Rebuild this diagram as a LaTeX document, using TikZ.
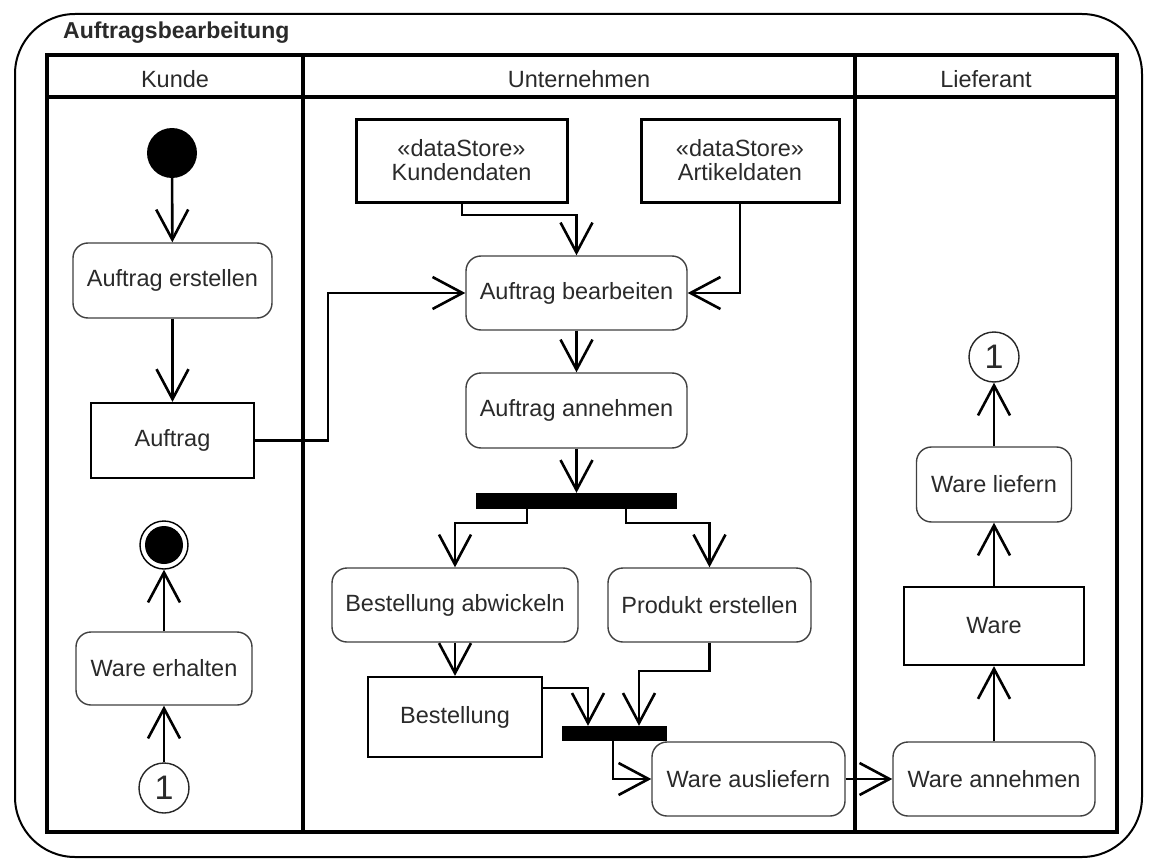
\documentclass[tikz,border=0pt]{standalone}
\usepackage{fontspec}
\setmainfont{Liberation Sans}
\usetikzlibrary{arrows.meta,positioning}
\definecolor{txt}{HTML}{2A2A2A}
\tikzset{
  base/.style={font=\fontsize{23.5}{27}\selectfont, text=txt, inner sep=0pt, align=center},
  act/.style={base, draw=black!75, line width=1.4pt, rounded corners=15pt, fill=white},
  obj/.style={base, draw=black, line width=2.2pt, fill=white},
  store/.style={base, draw=black, line width=3pt, fill=white},
  bar/.style={fill=black, draw=none, inner sep=0pt},
  conn/.style={base, font=\fontsize{34}{36}\selectfont, circle, draw=black!85, line width=1.4pt, minimum size=50pt, fill=white},
  flow/.style={line width=2.6pt, -{Straight Barb[length=30pt,width=32pt,line width=2.6pt]}},
  lane/.style={line width=4.5pt},
}
\begin{document}
\begin{tikzpicture}[x=1pt,y=-1pt]
\useasboundingbox (0,0) rectangle (1152,867);
\fill[white] (0,0) rectangle (1152,867);
% outer frame
\draw[line width=2pt, rounded corners=60pt] (15,14) rectangle (1142,857);
\node[base, font=\fontsize{23}{26}\selectfont\bfseries, anchor=west] (title) at (63,33) {Auftragsbearbeitung};
% swimlanes
\draw[lane] (47,55) rectangle (1117,832);
\draw[lane] (47,97) -- (1117,97);
\draw[lane] (303,55) -- (303,832);
\draw[lane] (855,55) -- (855,832);
\node[base] (hK) at (175,79) {Kunde};
\node[base] (hU) at (579,79) {Unternehmen};
\node[base] (hL) at (986,79) {Lieferant};
% Kunde lane
\node[circle, fill=black, minimum size=50pt, inner sep=0pt] (init) at (172,153) {};
\node[act, minimum width=199pt, minimum height=75pt] (erst) at (172.5,280.5) {Auftrag erstellen};
\node[obj, minimum width=163pt, minimum height=75pt] (auftrag) at (172.5,440.5) {Auftrag};
\node[circle, draw=black, line width=1.4pt, minimum size=48pt, inner sep=0pt] (final) at (164,545) {};
\fill[black] (final.center) circle (19pt);
\node[act, minimum width=176pt, minimum height=73pt] (erhalten) at (164,668.5) {Ware erhalten};
\node[conn] (conL) at (164,788) {1};
% Unternehmen lane
\node[store, minimum width=211pt, minimum height=83pt] (kdata) at (461.5,160.5) {«dataStore»\\[-3pt]Kundendaten};
\node[store, minimum width=198pt, minimum height=83pt] (adata) at (740,160.5) {«dataStore»\\[-3pt]Artikeldaten};
\node[act, minimum width=221pt, minimum height=74pt] (bearb) at (576.5,293) {Auftrag bearbeiten};
\node[act, minimum width=221pt, minimum height=75pt] (annehm) at (576.5,410.5) {Auftrag annehmen};
\node[bar, minimum width=201pt, minimum height=16pt] (fork) at (576.5,501) {};
\node[act, minimum width=246pt, minimum height=74pt] (abw) at (455,605) {Bestellung abwickeln};
\node[act, minimum width=203pt, minimum height=74pt] (prod) at (709.5,605) {Produkt erstellen};
\node[obj, minimum width=174pt, minimum height=80pt] (best) at (455,717) {Bestellung};
\node[bar, minimum width=105pt, minimum height=15pt] (join) at (614.5,733.5) {};
\node[act, minimum width=193pt, minimum height=74pt] (ausl) at (748.5,779) {Ware ausliefern};
% Lieferant lane
\node[act, minimum width=202pt, minimum height=74pt] (wannehm) at (994,779) {Ware annehmen};
\node[obj, minimum width=180pt, minimum height=78pt] (ware) at (994,626) {Ware};
\node[act, minimum width=155pt, minimum height=75pt] (liefern) at (994,484.5) {Ware liefern};
\node[conn] (conR) at (994,357) {1};
% flows
\draw[flow] (init) -- (erst);
\draw[flow] (erst) -- (auftrag);
\draw[flow] (auftrag.east) -- (328,440.5) -- (328,293) -- (bearb.west);
\draw[flow] (kdata.south -| 462,0) -- (462,215) -- (576.5,215) -- (bearb.north);
\draw[flow] (adata.south) -- (740,293) -- (bearb.east);
\draw[flow] (bearb) -- (annehm);
\draw[flow] (annehm) -- (fork);
\draw[flow] (fork.south -| 527,0) -- (527,523) -- (455,523) -- (abw.north);
\draw[flow] (fork.south -| 626,0) -- (626,523) -- (709.5,523) -- (prod.north);
\draw[flow] (abw) -- (best);
\draw[flow] (best.east |- 0,688) -- (588,688) -- (join.north -| 588,0);
\draw[flow] (prod.south) -- (709.5,671) -- (639,671) -- (join.north -| 639,0);
\draw[flow] (join.south -| 613,0) -- (613,779) -- (ausl.west);
\draw[flow] (ausl.east) -- (wannehm.west);
\draw[flow] (wannehm) -- (ware);
\draw[flow] (ware) -- (liefern);
\draw[flow] (liefern) -- (conR);
\draw[flow] (conL) -- (erhalten);
\draw[flow] (erhalten) -- (final);
\end{tikzpicture}
\end{document}
